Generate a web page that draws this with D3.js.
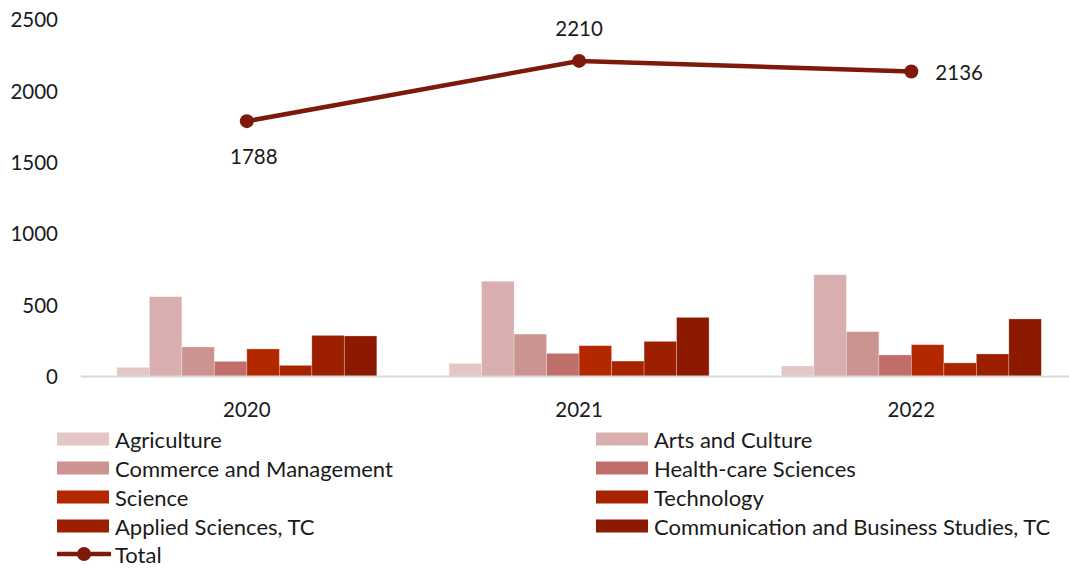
<!DOCTYPE html>
<html><head><meta charset="utf-8">
<script src="https://cdn.jsdelivr.net/npm/d3@7"></script>
<style>body{margin:0;background:#fff}svg{display:block}text{font-family:Lato,"Open Sans",sans-serif;fill:#1a1a1a}</style>
</head><body><svg id="c" width="1069" height="569"></svg>
<script>
const years = ["2020","2021","2022"];
const series = ["Agriculture","Arts and Culture","Commerce and Management","Health-care Sciences","Science","Technology","Applied Sciences, TC","Communication and Business Studies, TC"];
const values = {
  "Agriculture":[64,92,74],
  "Arts and Culture":[559,667,713],
  "Commerce and Management":[207,297,314],
  "Health-care Sciences":[106,162,151],
  "Science":[193,216,223],
  "Technology":[78,108,95],
  "Applied Sciences, TC":[288,246,158],
  "Communication and Business Studies, TC":[284,414,403]
};
const totals = [1788,2210,2136];
const yTicks = [0,500,1000,1500,2000,2500];
const colors = ["#E4C6C6","#D8AFAE","#CC9491","#C06E69","#B42800","#A82300","#9C2000","#8B1A00"];
const lineColor = "#7D1A0A";
const numSize = 20.5, legSize = 22;

const svg = d3.select("#c");
const y = d3.scaleLinear().domain([0,2500]).range([376.5,19.5]);
const x0 = d3.scaleBand().domain(years).range([80.7,1077.5]).paddingInner(0.2176).paddingOuter(0.1088);
const x1 = d3.scaleBand().domain(series).range([0,x0.bandwidth()]);
const color = d3.scaleOrdinal().domain(series).range(colors);

// y axis labels
const yAxis = d3.axisLeft(y).tickValues(yTicks).tickFormat(d3.format("d")).tickSize(0).tickPadding(0);
const gy = svg.append("g").attr("transform","translate(58,0)").call(yAxis);
gy.select(".domain").remove();
gy.selectAll("text").attr("font-size",numSize).attr("font-family","Lato").attr("fill","#1a1a1a").attr("dy","0.35em");

// bars
const groups = svg.append("g").selectAll("g").data(years).join("g")
  .attr("transform",d=>`translate(${x0(d)},0)`);
groups.selectAll("rect").data((d,i)=>series.map(s=>({s,v:values[s][i]}))).join("rect")
  .attr("x",d=>x1(d.s)).attr("width",x1.bandwidth())
  .attr("y",d=>y(d.v)).attr("height",d=>y(0)-y(d.v))
  .attr("fill",d=>color(d.s)).attr("stroke","#fff").attr("stroke-opacity",0.35).attr("stroke-width",0.75);

// x axis
const xAxis = d3.axisBottom(x0).tickSize(0).tickPadding(0);
const gx = svg.append("g").attr("transform",`translate(0,${y(0)})`).call(xAxis);
gx.select(".domain").attr("stroke","#D9D9D9").attr("stroke-width",2).attr("d",`M80.7,0H1077.5`);
gx.selectAll("text").attr("font-size",numSize).attr("font-family","Lato").attr("fill","#1a1a1a").attr("dy","0").attr("y",40);

// total line
const cx = d=>x0(d)+x0.bandwidth()/2;
const line = d3.line().x((d,i)=>cx(years[i])).y(d=>y(d));
svg.append("path").datum(totals).attr("d",line).attr("fill","none").attr("stroke",lineColor).attr("stroke-width",4.5).attr("stroke-linejoin","round");
svg.append("g").selectAll("circle").data(totals).join("circle")
  .attr("cx",(d,i)=>cx(years[i])).attr("cy",d=>y(d)).attr("r",7).attr("fill",lineColor);
const labelPos = [{dx:7,dy:35,anchor:"middle"},{dx:0,dy:-33,anchor:"middle"},{dx:24,dy:1,anchor:"start"}];
svg.append("g").selectAll("text").data(totals).join("text")
  .attr("x",(d,i)=>cx(years[i])+labelPos[i].dx).attr("y",(d,i)=>y(d)+labelPos[i].dy)
  .attr("text-anchor",(d,i)=>labelPos[i].anchor).attr("dominant-baseline","central")
  .attr("font-size",numSize).text(d=>d);

// legend
const legX = [57,596], legY0 = 439, legStep = 29;
const lg = svg.append("g");
series.forEach((s,i)=>{
  const col = i%2, row = Math.floor(i/2);
  const gx0 = legX[col], gy0 = legY0 + row*legStep;
  lg.append("rect").attr("x",gx0).attr("y",gy0-6.5).attr("width",52).attr("height",13).attr("fill",color(s));
  lg.append("text").attr("x",gx0+58).attr("y",gy0).attr("dominant-baseline","central").attr("font-size",legSize).text(s);
});
const ty = legY0 + 4*legStep - 1;
lg.append("line").attr("x1",57).attr("x2",111).attr("y1",ty).attr("y2",ty).attr("stroke",lineColor).attr("stroke-width",4.5);
lg.append("circle").attr("cx",84).attr("cy",ty).attr("r",7).attr("fill",lineColor);
lg.append("text").attr("x",115).attr("y",ty).attr("dominant-baseline","central").attr("font-size",legSize).text("Total");
</script></body></html>
